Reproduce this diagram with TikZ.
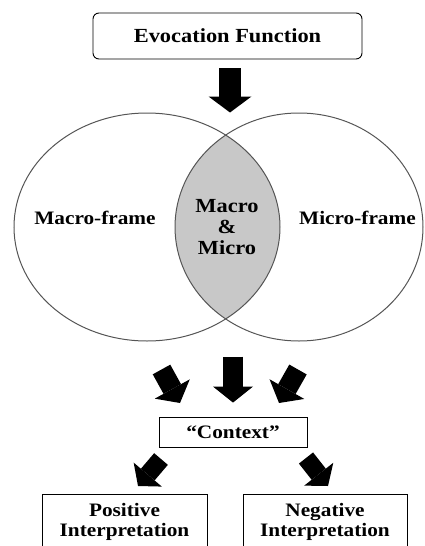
\documentclass[tikz,border=0pt]{standalone}
\usepackage{fontspec}
\usepackage{tikz}
\usetikzlibrary{shapes.geometric, arrows.meta}
\newfontfamily\figfont{Liberation Serif}[FakeStretch=1.12]
\definecolor{lensgray}{RGB}{200,200,200}
\definecolor{rimgray}{RGB}{85,85,85}

\begin{document}
\begin{tikzpicture}[
    x=1pt, y=-1pt,
    font=\figfont\bfseries\fontsize{19}{21}\selectfont,
    box/.style={rectangle, draw, line width=0.9pt, inner sep=0pt, text centered},
    frame/.style={ellipse, draw=rimgray, line width=1pt, inner sep=0pt},
    frametext/.style={inner sep=0pt, anchor=base},
    fatarrow/.style={line width=20pt, -{Triangle[length=16pt, width=40pt, line width=0pt]}}
]
    \useasboundingbox (0,0) rectangle (425,546);

    % Top box
    \node [box, rounded corners=6pt, minimum width=269pt, minimum height=46pt,
           font=\figfont\bfseries\fontsize{20}{22}\selectfont] (evo) at (227.5,36) {Evocation Function};

    % Venn frames with shaded overlap
    \begin{scope}
        \clip (147,227) ellipse [x radius=133pt, y radius=114pt];
        \fill [lensgray] (299,227) ellipse [x radius=124pt, y radius=114pt];
    \end{scope}
    \node [frame, minimum width=266pt, minimum height=228pt] (macro) at (147,227) {};
    \node [frame, minimum width=248pt, minimum height=228pt] (micro) at (299,227) {};
    \node [frametext] (macrot) at (95,224) {Macro-frame};
    \node [frametext] (microt) at (357.5,224) {Micro-frame};
    \node [align=center, inner sep=0pt,
           font=\figfont\bfseries\fontsize{20}{21}\selectfont] (both) at (227,227) {Macro\\\&\\Micro};

    % Context and interpretations
    \node [box, minimum width=148pt, minimum height=30pt] (ctx) at (233,432) {“Context”};
    \node [box, minimum width=165pt, minimum height=56pt, align=center,
           font=\figfont\bfseries\fontsize{19}{20}\selectfont] (pos) at (124.5,522) {Positive\\Interpretation};
    \node [box, minimum width=164pt, minimum height=56pt, align=center,
           font=\figfont\bfseries\fontsize{19}{20}\selectfont] (neg) at (325,522) {Negative\\Interpretation};

    % Arrow ends
    \coordinate (inL) at (161.5,369.5);
    \coordinate (tipL) at (180,403);
    \coordinate (inR) at (298,369.5);
    \coordinate (tipR) at (279,403);
    \coordinate (outL) at (161,459);
    \coordinate (tipPL) at (138,486);
    \coordinate (outR) at (306,458);
    \coordinate (tipNR) at (328,486);

    % Block arrows
    \draw [fatarrow, line width=22pt, -{Triangle[length=16pt, width=43pt, line width=0pt]},
           shorten <=9pt] (evo.south -| 230,0) -- (micro.north -| 230,0);
    \draw [fatarrow, shorten >=14pt] ([yshift=60pt]ctx.north) -- (ctx.north);
    \draw [fatarrow] (inL) -- (tipL);
    \draw [fatarrow] (inR) -- (tipR);
    \draw [fatarrow, line width=18pt, -{Triangle[length=15pt, width=37pt, line width=0pt]}] (outL) -- (tipPL);
    \draw [fatarrow, line width=18pt, -{Triangle[length=15pt, width=37pt, line width=0pt]}] (outR) -- (tipNR);

\end{tikzpicture}
\end{document}
